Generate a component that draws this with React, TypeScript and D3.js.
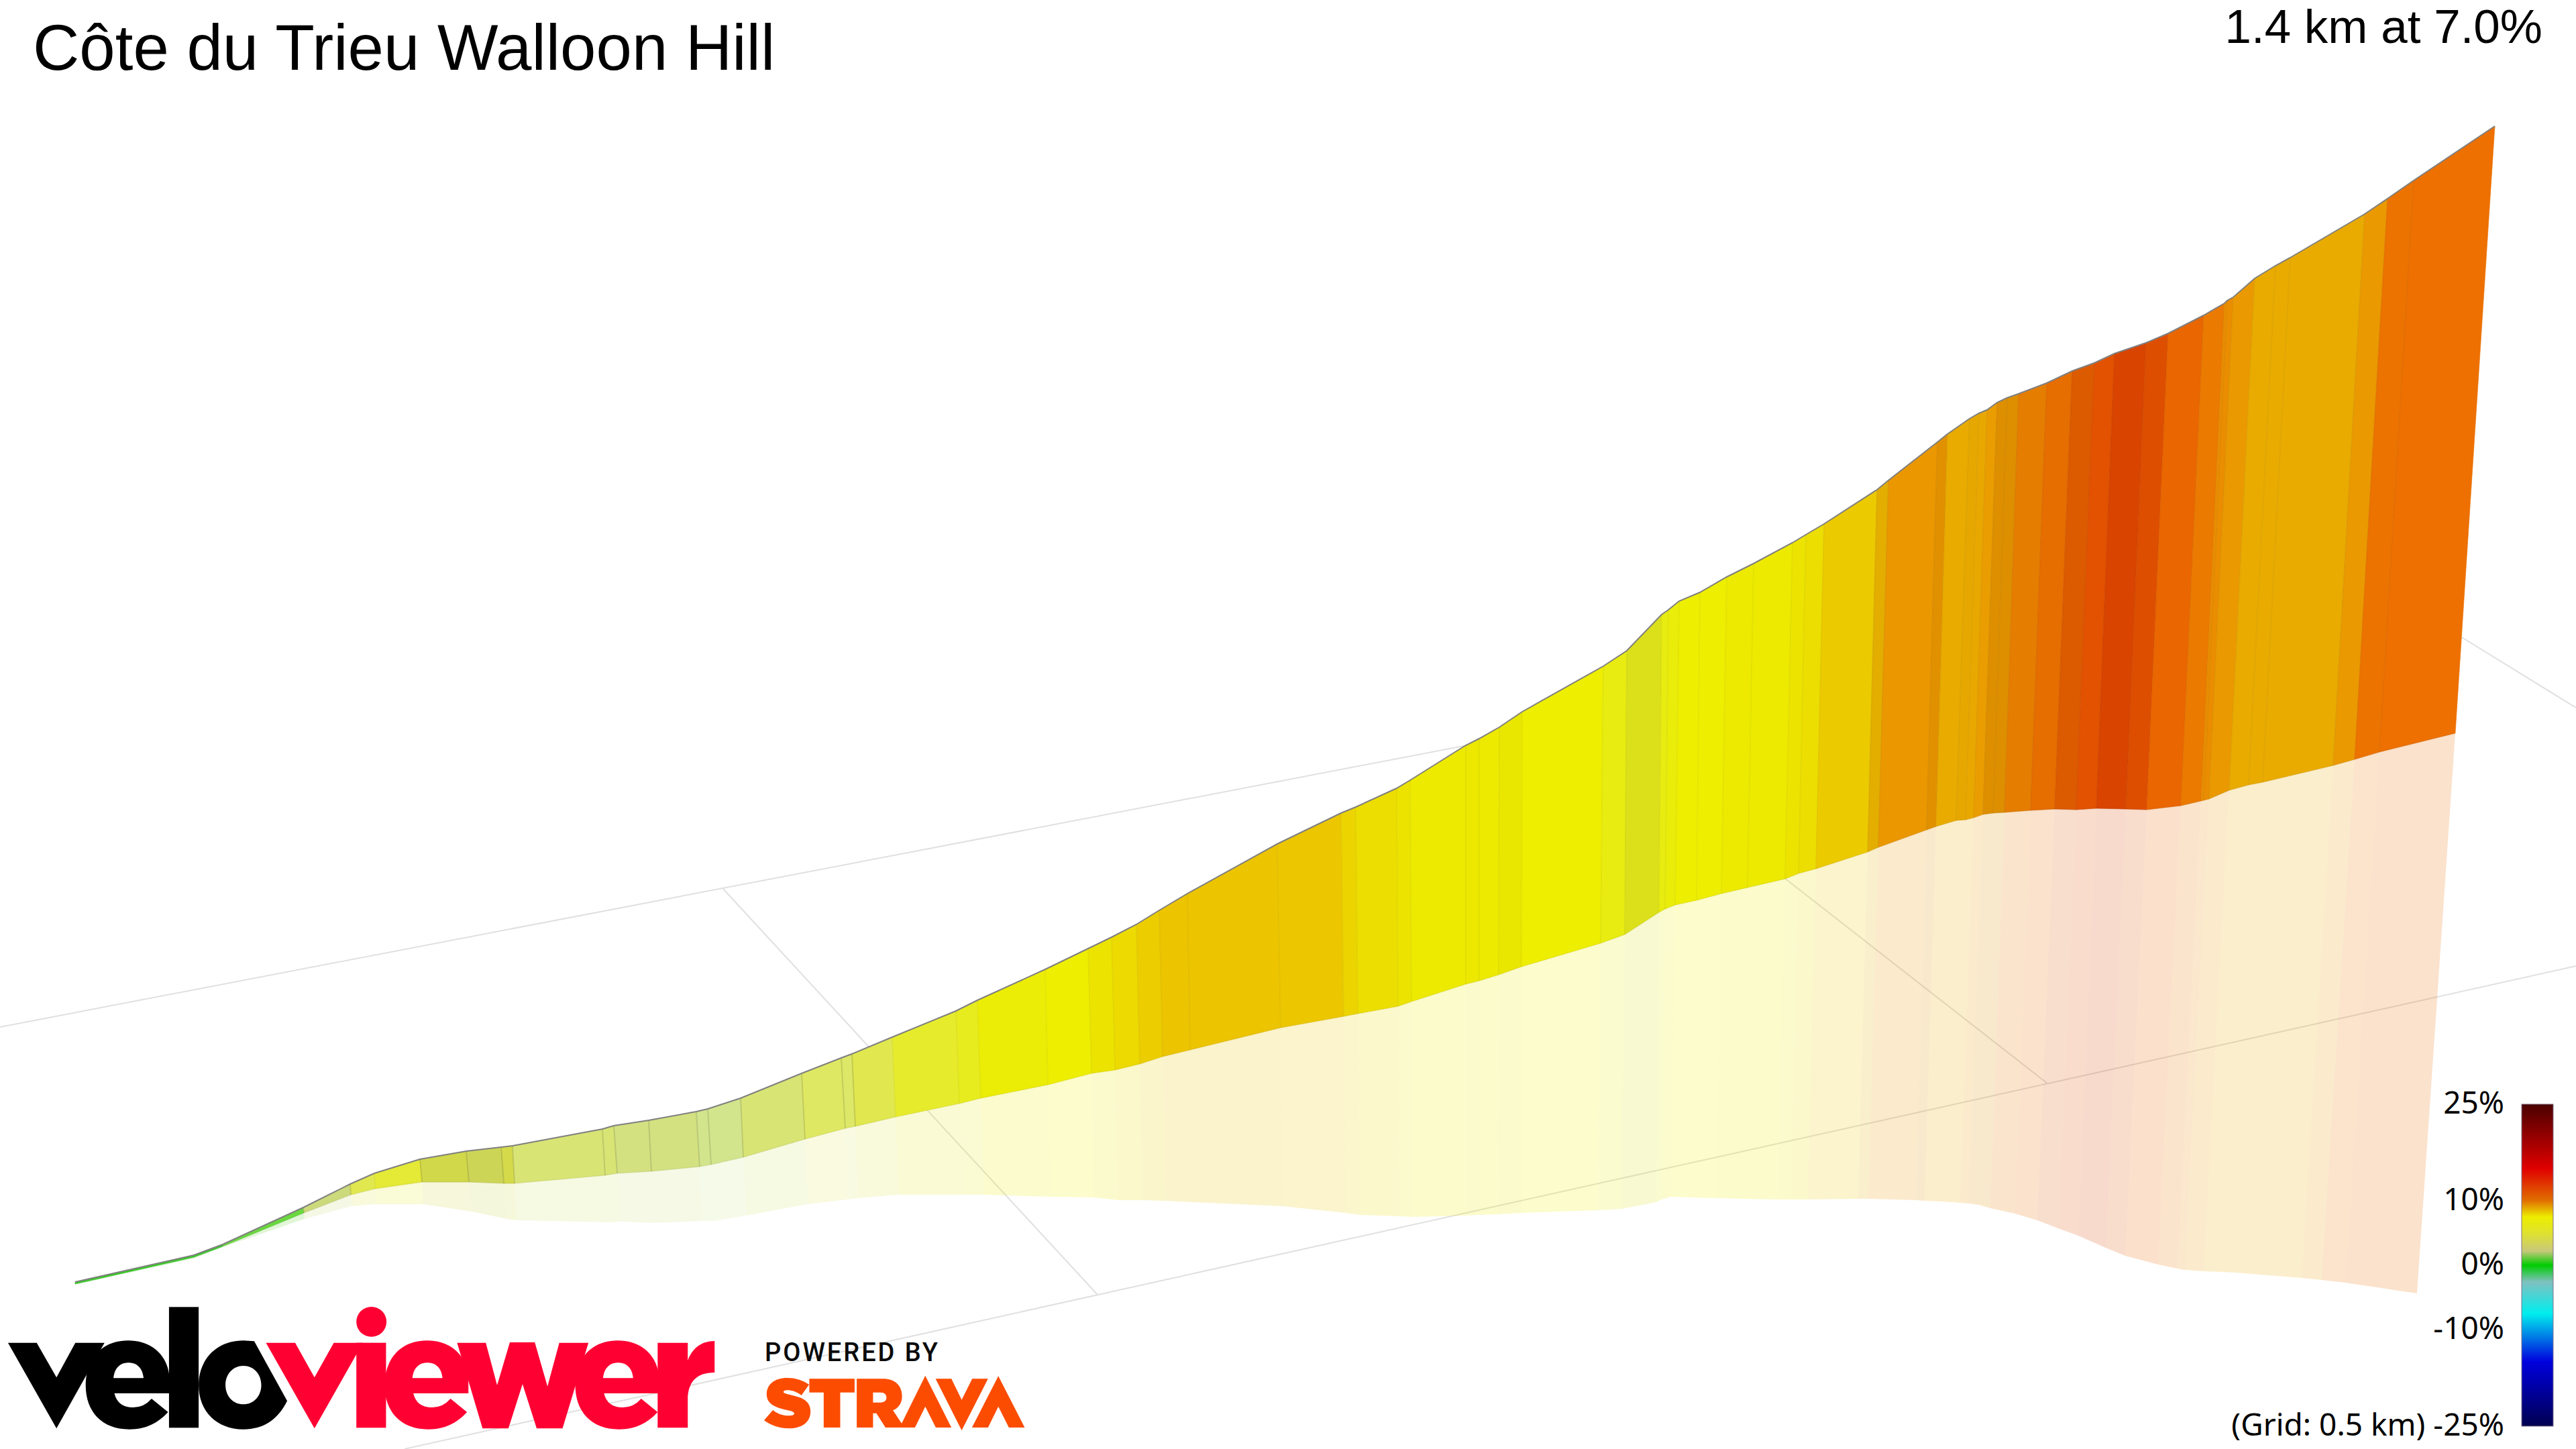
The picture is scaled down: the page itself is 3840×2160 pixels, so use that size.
import React from "react";
import * as d3 from "d3";

const titleText = "Côte du Trieu Walloon Hill";
const summaryText = "1.4 km at 7.0%";
const gridNote = "(Grid: 0.5 km)";

// Projected station positions (along-view position, height above frame bottom)
const topX = [112,289,332,452,522,558,626,695,747,764,898,915,967,1038,1055,1104,1195,1254,1270,1330,1425,1457,1558,1622,1657,1694,1728,1770,1904,1999,2021,2082,2102,2185,2205,2235,2269,2390,2425,2477,2487,2503,2534,2574,2614,2672,2692,2719,2798,2815,2888,2903,2936,2950,2962,2977,2992,3009,3051,3089,3122,3152,3199,3232,3285,3316,3320,3329,3361,3392,3414,3525,3559,3598,3719];
const topH = [249,289,305,360,395,411,432,444,450,452,477,482,490,503,507,523,560,583,589,614,653,669,715,746,763,782,803,828,902,948,957,985,997,1049,1059,1076,1099,1167,1190,1244,1251,1264,1277,1300,1320,1351,1363,1379,1430,1444,1501,1513,1536,1544,1549,1560,1567,1573,1589,1607,1619,1633,1649,1663,1690,1708,1712,1717,1745,1764,1776,1841,1864,1891,1972];
const midX = [112,289,332,453,523,559,629,699,751,767,902,920,971,1043,1060,1108,1200,1260,1275,1335,1430,1462,1562,1627,1662,1699,1733,1774,1909,2003,2024,2084,2104,2185,2205,2234,2268,2386,2422,2473,2482,2497,2529,2566,2605,2661,2681,2707,2784,2800,2872,2886,2916,2930,2942,2956,2971,2988,3027,3063,3095,3125,3169,3200,3251,3281,3285,3293,3323,3352,3373,3478,3510,3547,3660];
const midH = [246,286,302,352,379,388,398,398,396,396,408,411,414,421,424,435,462,478,481,495,515,523,543,560,565,574,585,595,628,645,649,660,667,693,698,707,719,754,767,800,805,811,818,828,837,850,858,865,890,897,923,928,937,938,941,946,948,949,952,954,953,955,954,953,959,966,967,969,982,990,994,1019,1028,1039,1067];
const shadowX = [112,289,332,454,524,561,631,703,755,770,908,924,976,1047,1064,1113,1204,1263,1279,1339,1436,1467,1567,1631,1667,1703,1738,1779,1912,2006,2027,2086,2106,2185,2205,2233,2267,2382,2418,2469,2477,2491,2524,2558,2596,2650,2670,2695,2770,2785,2856,2869,2896,2910,2922,2935,2950,2967,3003,3037,3068,3098,3139,3168,3217,3246,3250,3257,3285,3312,3332,3431,3461,3496,3603];
const shadowH = [245,284,301,343,362,365,365,354,343,341,338,339,337,340,340,348,365,372,374,379,379,379,376,375,371,371,370,368,362,352,349,347,346,348,349,350,352,356,358,368,372,376,375,374,373,372,372,372,373,373,371,370,369,368,367,366,364,359,351,341,329,318,300,288,275,269,268,267,265,264,263,255,252,248,232];

// Gradient (%) of each segment between stations
const segmentGrades = [0.6,0.6,1.4,3.0,4.6,5.6,4.6,4.0,4.6,3.3,3.3,3.0,3.0,2.7,2.7,3.3,3.9,3.7,4.6,6.0,6.5,7.3,7.5,8.0,8.3,8.7,9.0,9.0,8.9,8.5,8.2,8.0,7.7,7.8,7.7,7.6,7.5,7.0,6.6,7.0,7.2,7.5,7.5,7.7,7.7,8.0,8.2,8.8,9.4,10.3,10.3,9.6,9.6,9.7,10.1,10.3,10.3,11.0,11.5,12.2,12.6,13.2,12.8,12.0,11.2,10.6,10.6,10.2,9.6,9.6,9.6,10.2,11.4,11.5];
// Facet light factor of each segment
const segmentLight = [1,1,1,0.97,1,1,0.93,0.92,0.94,1,1,1,1,1,1,1,1,1,1,1,1,1,1,1,1,1,1,1,1,1,1,1,1,1,1,0.98,1,1,0.95,1,1,1,1,1,1,1,1,1,0.97,1,0.96,1,0.985,1,1,0.95,0.95,0.98,0.97,0.95,1,1,1,1,1,1,1,1,1,1,1,1,1,1];

const wallStopGrades = [0,1.4,2.7,3.0,3.3,3.9,4.6,5.5,6,7,7.5,8,8.5,9,9.6,10.2,11,11.5,12,12.6,12.8,13.2];
const wallStopColors = ["#10c010","#6ad93e","#d2e58c","#d3e180","#d8e474","#dfe862","#e1e84f","#e4ea38","#e6ec2c","#e8ec10","#eeee00","#ece400","#ecd400","#ecc400","#e9ab00","#ea9a00","#ea8000","#ed7000","#ea6600","#e35200","#de4e00","#d94400"];

const legendStopGrades = [25,15,10,7.5,5,2.2,0,-2.6,-7.5,-15,-25];
const legendStopColors = ["#4a0000","#e00000","#e07000","#eded00","#dfe22e","#c8c87a","#00cc00","#80c0c0","#00eeee","#0000dd","#000050"];
const legendTicks = [25,10,0,-10];
const legendLastTick = -25;

const gridX1 = [0,603,1078,2600,3600];
const gridH1 = [629,0,835,898,1253];
const gridX2 = [2400,3840,1636,3052,3840];
const gridH2 = [1090,720,230,545,1105];

const W = 3840, H = 2160;
const xScale = d3.scaleLinear().domain([0, W]).range([0, W]);
const yScale = d3.scaleLinear().domain([0, H]).range([H, 0]);
const wallColor = d3.scaleLinear<string>().domain(wallStopGrades).range(wallStopColors).interpolate(d3.interpolateRgb);
const legendY = d3.scaleLinear().domain([25, -25]).range([1646, 2126]);
const polyline = d3.line<[number, number]>().x(d => xScale(d[0])).y(d => yScale(d[1]));

function faceColor(i: number) {
  const c = d3.rgb(wallColor(segmentGrades[i]));
  const k = segmentLight[i];
  return d3.rgb(c.r * k, c.g * k, c.b * k).formatHex();
}
function quad(ax: number[], ah: number[], bx: number[], bh: number[], i: number) {
  const pts: [number, number][] = [[ax[i], ah[i]], [ax[i + 1], ah[i + 1]], [bx[i + 1], bh[i + 1]], [bx[i], bh[i]]];
  return polyline(pts) + "Z";
}
const edge = (xs: number[], hs: number[]) => polyline(xs.map((x, i) => [x, hs[i]] as [number, number])) as string;

function VeloE({ dx, fill }: { dx: number; fill: string }) {
  const d = "M360,531 L243,531 Q250,594 283,594 Q306,594 322,555 L357,615 C335,665 310,692 275,692 C215,692 182,610 182,495 C182,380 215,295 272,295 C330,295 360,380 360,470 Z M241,463 L305,463 C303,420 292,394 273,394 C254,394 243,420 241,463 Z";
  return <path d={d} fill={fill} fillRule="evenodd" transform={`translate(${dx},0)`} />;
}

function Logo() {
  const red = "#ff0033";
  return (
    <g transform={`translate(0,1900) scale(${1 / 1.425},${1 / 3})`}>
      <polygon points="17,305 78,305 120,460 160,305 222,305 120,688" fill="#000" />
      <VeloE dx={0} fill="#000" />
      <rect x={359} y={145} width={63} height={540} fill="#000" />
      <path fillRule="evenodd" fill="#000" d="M517,295 L540,298 L610,565 C590,650 560,692 517,692 C460,692 422,610 422,494 C422,380 460,295 517,295 Z M517,408 C495,408 479,445 479,494 C479,543 495,580 517,580 C539,580 555,543 555,494 C555,445 539,408 517,408 Z" />
      <polygon points="565,305 627,305 668,460 709,305 771,305 668,688" fill={red} />
      <rect x={757} y={305} width={63} height={380} fill={red} />
      <ellipse cx={789} cy={211} rx={32} ry={67} fill={red} />
      <VeloE dx={635} fill={red} />
      <polygon points="971,305 1032,305 1056,495 1083,303 1136,303 1163,500 1188,305 1250,305 1195,688 1140,688 1110,490 1080,688 1025,688" fill={red} />
      <VeloE dx={1040} fill={red} />
      <path d="M1397,305 L1461,305 L1461,385 C1470,330 1490,297 1518,297 L1518,438 C1480,438 1461,480 1461,560 L1461,685 L1397,685 Z" fill={red} />
    </g>
  );
}

function Strava() {
  const c = "#fc4c02";
  return (
    <g transform={`translate(1050,1900) scale(${1 / 2.8},${1 / 3})`}>
      <path d="M437,492 C410,472 380,462 345,462 C295,462 260,490 260,535 C260,575 290,592 330,602 L360,610 C370,613 375,616 375,622 C375,628 368,631 352,631 C325,631 305,622 286,606 L249,652 C280,676 315,688 352,688 C405,688 443,662 443,612 C443,570 415,552 375,542 L345,534 C335,531 330,528 330,524 C330,520 336,517 345,517 C365,517 385,524 405,540 Z" fill={c} />
      <polygon points="438,466 627,466 627,527 567,527 567,684 498,684 498,527 438,527" fill={c} />
      <path fillRule="evenodd" fill={c} d="M636,466 L745,466 C795,466 825,495 825,545 C825,575 810,597 787,607 L825,668 L815,684 L756,684 L718,620 L704,620 L704,684 L636,684 Z M704,527 L704,572 L735,572 C752,572 760,563 760,550 C760,537 752,527 735,527 Z" />
      <polygon points="815,684 922,452 1031,684 966,684 922,590 879,684" fill={c} />
      <polygon points="965,466 1031,466 1074,560 1118,466 1184,466 1074,697" fill={c} />
      <polygon points="1117,684 1227,454 1337,684 1271,684 1227,590 1184,684" fill={c} />
    </g>
  );
}

export default function App() {
  const segs = segmentGrades.map((_, i) => i);
  const labelFont = "'Noto Sans', sans-serif";
  return (
    <svg width={W} height={H} viewBox={`0 0 ${W} ${H}`} style={{ position: "absolute", left: 0, top: 0, background: "#fff" }}>
      <defs>
        <linearGradient id="gradeBar" x1="0" y1="0" x2="0" y2="1">
          {legendStopGrades.map((g, i) => (
            <stop key={g} offset={(legendY(g) - 1646) / 480} stopColor={legendStopColors[i]} />
          ))}
        </linearGradient>
      </defs>

      <g stroke="#e0e0e0" strokeWidth={2}>
        {gridX1.map((x, i) => (
          <line key={i} x1={xScale(x)} y1={yScale(gridH1[i])} x2={xScale(gridX2[i])} y2={yScale(gridH2[i])} />
        ))}
      </g>

      <g>
        {segs.map(i => (
          <path key={i} d={quad(midX, midH, shadowX, shadowH, i)} fill={faceColor(i)} fillOpacity={0.2} />
        ))}
      </g>
      <g>
        {segs.map(i => (
          <path key={i} d={quad(topX, topH, midX, midH, i)} fill={faceColor(i)} stroke={faceColor(i)} strokeWidth={0.6} />
        ))}
      </g>
      <g stroke="#000" strokeWidth={2}>
        {topX.slice(3, -1).map((x, i) => (
          <line key={i} x1={xScale(x)} y1={yScale(topH[i + 3])} x2={xScale(midX[i + 3])} y2={yScale(midH[i + 3])}
            strokeOpacity={segmentGrades[i + 3] < 5 ? 0.12 : 0.035} />
        ))}
      </g>
      <path d={edge(midX, midH)} fill="none" stroke="#000" strokeOpacity={0.04} strokeWidth={2} />
      <path d={edge(topX, topH)} fill="none" stroke="#808080" strokeWidth={2} />

      <Logo />
      <Strava />
      <text x={1140} y={2029} fontFamily="Roboto, sans-serif" fontWeight={500} fontSize={38} textLength={258} lengthAdjust="spacing" fill="#0a0a0a">POWERED BY</text>

      <text x={49} y={104} fontFamily="'Liberation Sans', Arial, sans-serif" fontSize={96} fill="#000">{titleText}</text>
      <text x={3790} y={64} textAnchor="end" fontFamily="'Liberation Sans', Arial, sans-serif" fontSize={71} fill="#000">{summaryText}</text>

      <rect x={3759} y={1646} width={47} height={480} fill="url(#gradeBar)" stroke="#80708c" strokeWidth={1} />
      <g fontFamily={labelFont} fontSize={46} fill="#000" textAnchor="end">
        {legendTicks.map(t => (
          <text key={t} x={3733} y={legendY(t) + 14}>{`${t}%`}</text>
        ))}
        <text x={3733} y={legendY(legendLastTick) + 14}>{`${gridNote} ${legendLastTick}%`}</text>
      </g>
    </svg>
  );
}
